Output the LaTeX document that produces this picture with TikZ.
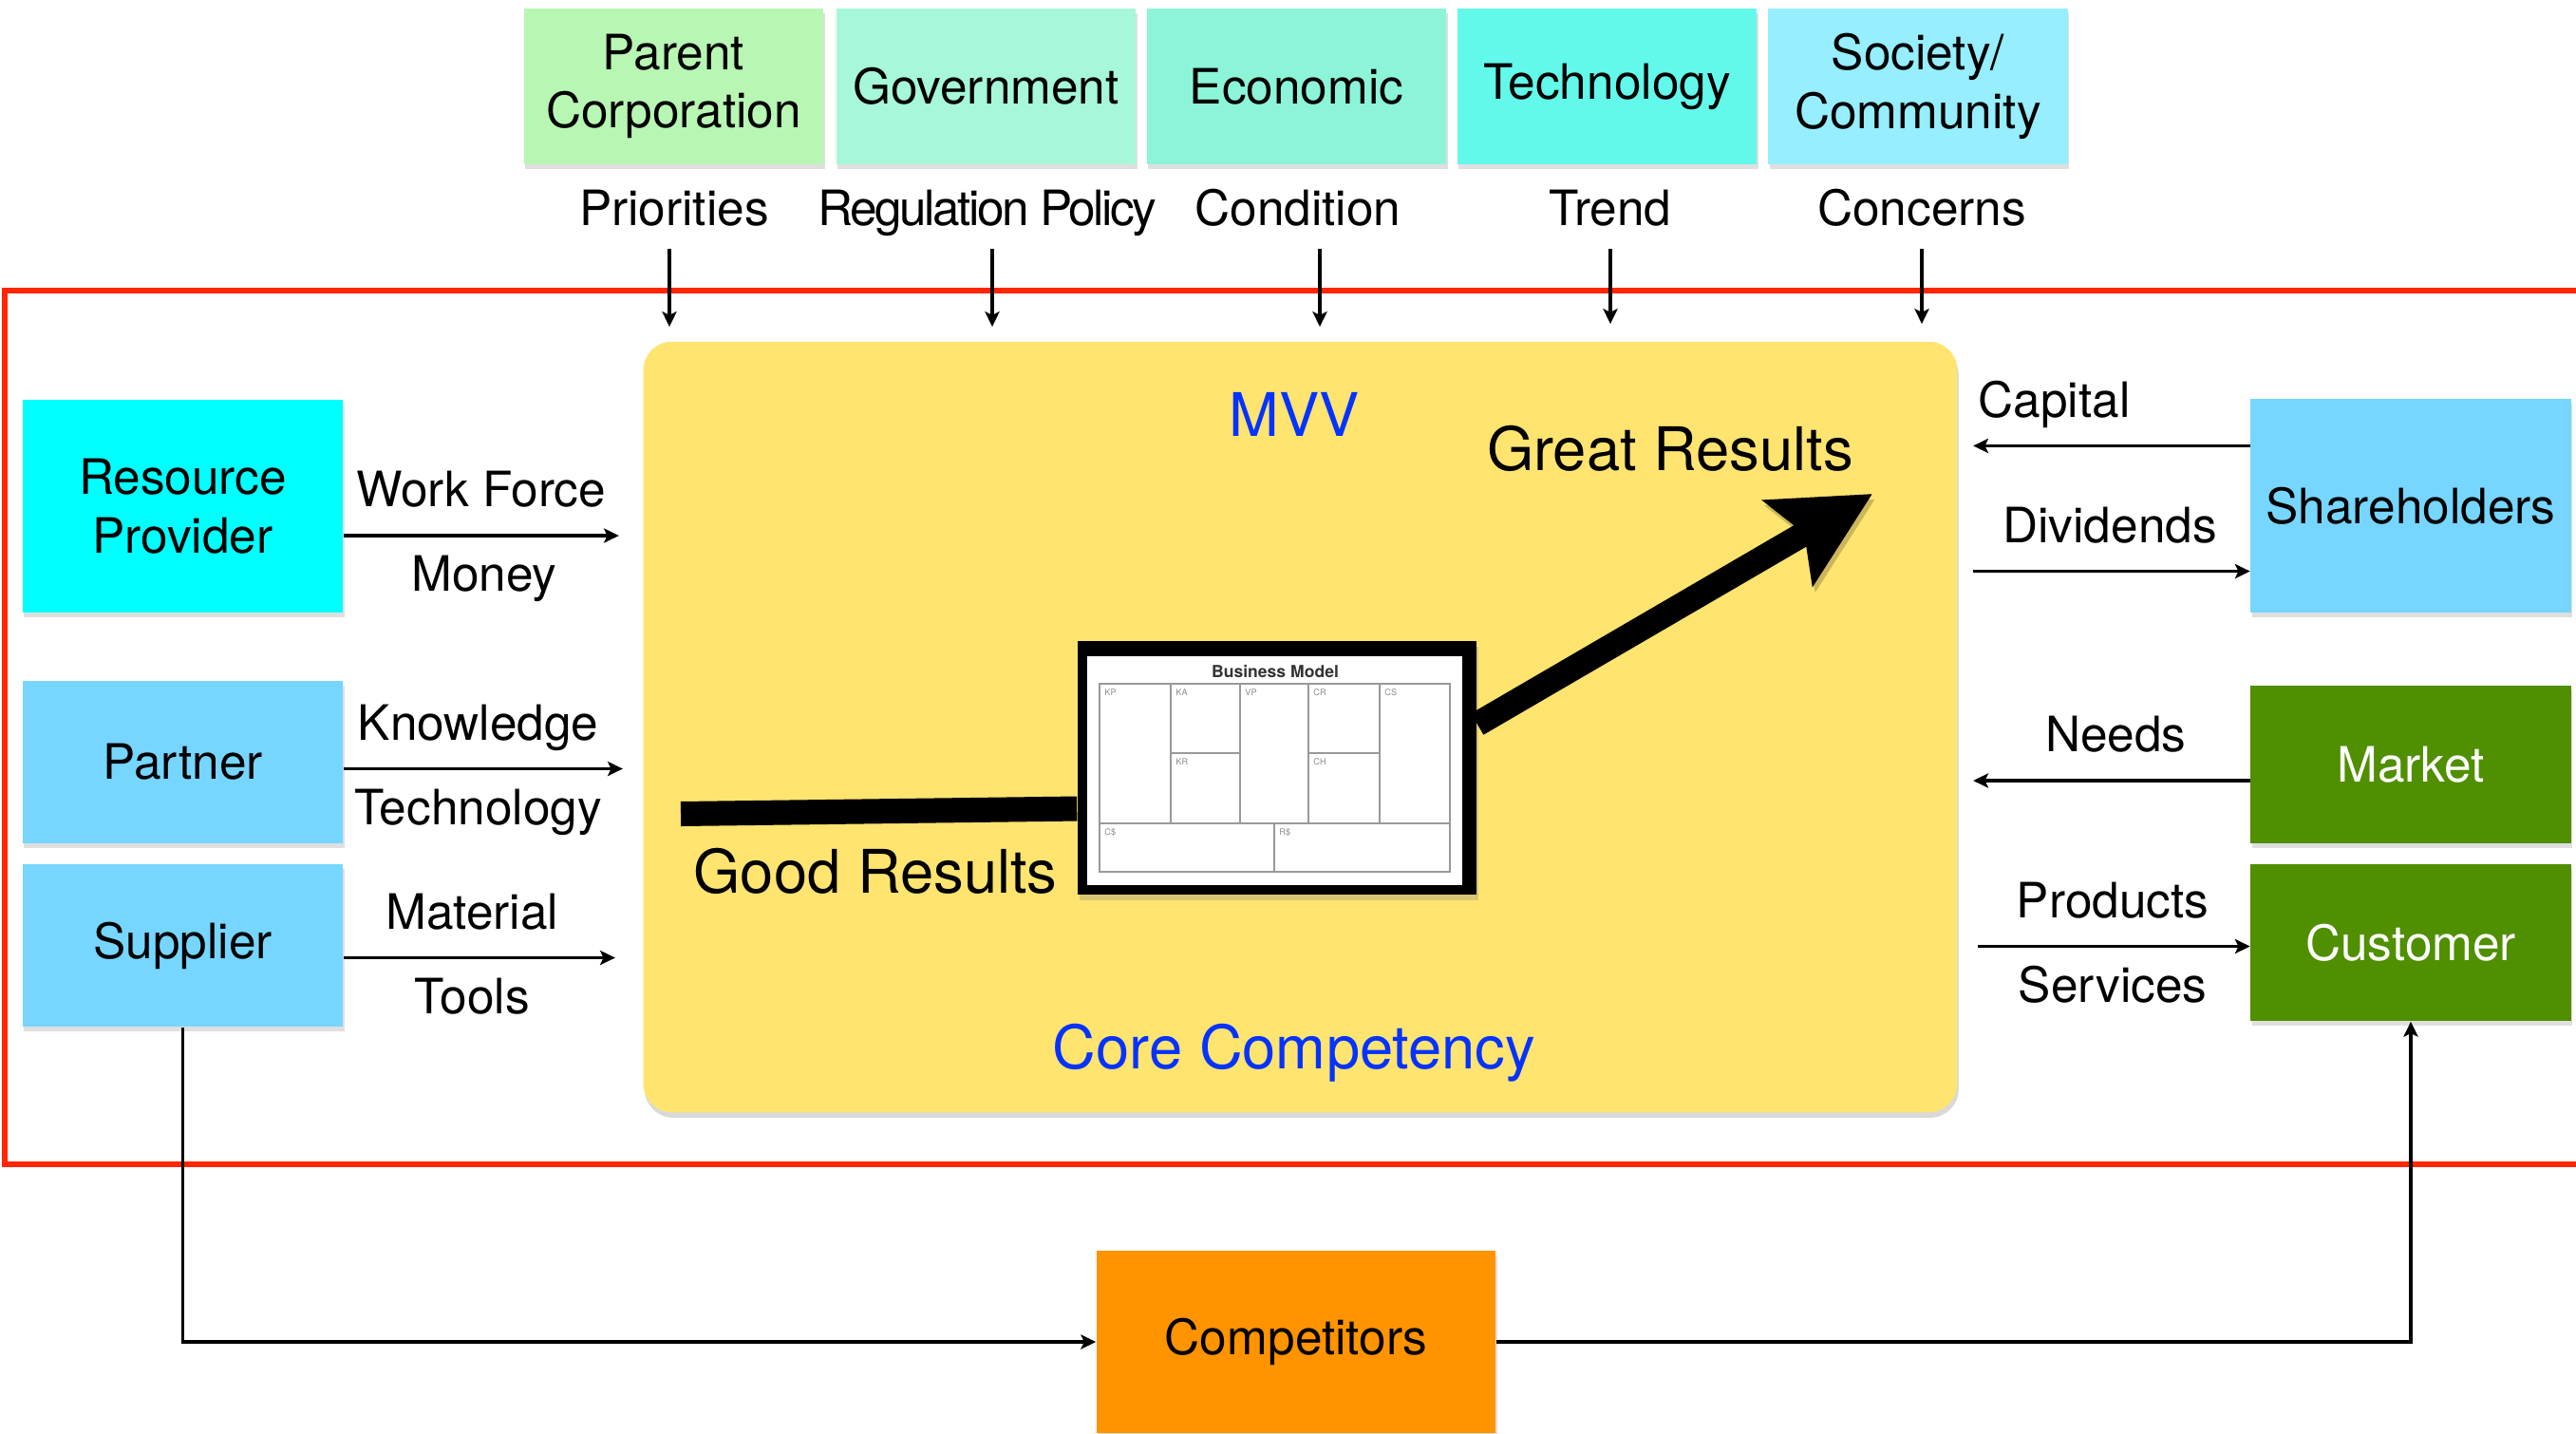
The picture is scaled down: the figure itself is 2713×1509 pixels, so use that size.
\documentclass[tikz,border=0pt]{standalone}
\usepackage{fontspec}
\setmainfont{TeX Gyre Heros}
\usetikzlibrary{arrows.meta,shadows}

\definecolor{parentgreen}{HTML}{B8F6B4}
\definecolor{govmint}{HTML}{A6F8D8}
\definecolor{econmint}{HTML}{8CF5D9}
\definecolor{techaqua}{HTML}{62F9EB}
\definecolor{societysky}{HTML}{96EEFF}
\definecolor{rescyan}{HTML}{00FFFF}
\definecolor{partnerblue}{HTML}{76D6FF}
\definecolor{marketgreen}{HTML}{4F8F00}
\definecolor{comporange}{HTML}{FF9300}
\definecolor{coreyellow}{HTML}{FFE470}
\definecolor{mvvblue}{HTML}{0433FF}
\definecolor{framered}{HTML}{FF2600}

\begin{document}
\begin{tikzpicture}[x={(0.01cm,0cm)}, y={(0cm,-0.01cm)},
    box/.style={minimum width=3.37cm, minimum height=1.71cm, inner sep=0pt, align=center,
        font=\fontsize{14.6}{17.5}\selectfont,
        drop shadow={shadow xshift=0.4pt, shadow yshift=-1.4pt, opacity=0.25}},
    topbox/.style={box, minimum width=3.15cm, minimum height=1.64cm},
    lbl/.style={font=\fontsize{14.6}{17.5}\selectfont, text height=0.75em, text depth=0.25em, inner sep=4.5pt},
    lblup/.style={lbl, above, inner sep=5.6pt},
    lbldown/.style={lbl, below, inner sep=8.8pt},
    big/.style={font=\fontsize{18}{22}\selectfont, anchor=base, inner sep=0pt},
    flow/.style={-{Stealth[length=4.5pt, width=4.3pt, inset=1pt]}, line width=0.9pt},
    bigline/.style={line width=7.4pt, preaction={draw, black, opacity=0.2, transform canvas={xshift=0.8pt, yshift=-1.6pt}}},
    cell/.style={black!40, line width=0.7pt},
    celltag/.style={black!45, font=\fontsize{2.6}{3}\selectfont, anchor=north west, inner sep=0.5pt}]
    \useasboundingbox (0,0) rectangle (2713,1509);

    % boundary of the company
    \draw[framered, line width=1.7pt] (5,306) rectangle (2740,1226);

    \node[fill=coreyellow, rounded corners=8.5pt, minimum width=13.83cm, minimum height=8.11cm,
        drop shadow={shadow xshift=0.4pt, shadow yshift=-1.6pt, opacity=0.3}] (core) at (1369.5,765.5) {};

    % outside forces
    \node[topbox, fill=parentgreen] (parent) at (709.5,91) {Parent\\Corporation};
    \node[topbox, fill=govmint] (gov) at (1038.5,91) {Government};
    \node[topbox, fill=econmint] (econ) at (1365.5,91) {Economic};
    \node[topbox, fill=techaqua] (tech) at (1692.5,91) {Technology};
    \node[topbox, fill=societysky] (society) at (2020,91) {Society/\\Community};

    \node[lbl, anchor=base] (pri) at (710,237) {Priorities};
    \node[lbl, anchor=base] (reg) at (1040,237) {\addfontfeatures{LetterSpace=-5}Regulation Policy};
    \node[lbl, anchor=base] (cond) at (1367,237) {Condition};
    \node[lbl, anchor=base] (trend) at (1696,237) {Trend};
    \node[lbl, anchor=base] (concerns) at (2024,237) {Concerns};

    \draw[flow, shorten >=0.15cm] ([xshift=-0.5mm]pri.south) -- ([xshift=-0.5mm]pri.south |- core.north);
    \draw[flow, shorten >=0.15cm] ([xshift=0.5mm]reg.south) -- ([xshift=0.5mm]reg.south |- core.north);
    \draw[flow, shorten >=0.15cm] ([xshift=2.3mm]cond.south) -- ([xshift=2.3mm]cond.south |- core.north);
    \draw[flow, shorten >=0.18cm] (trend.south) -- (trend.south |- core.north);
    \draw[flow, shorten >=0.18cm] (concerns.south) -- (concerns.south |- core.north);

    % inputs on the left
    \node[box, fill=rescyan, minimum height=2.24cm] (resource) at (192.5,533) {Resource\\Provider};
    \node[box, fill=partnerblue] (partner) at (192.5,802.5) {Partner};
    \node[box, fill=partnerblue] (supplier) at (192.5,995.5) {Supplier};

    \draw[flow, shorten >=0.25cm] ([yshift=-3.1mm]resource.east) -- ([yshift=-3.1mm]resource.east -| core.west)
        node[lblup, pos=0.46] (workforce) {Work Force} node[lbldown, pos=0.47] (money) {Money};
    \draw[flow, shorten >=0.21cm] ([yshift=-0.7mm]partner.east) -- ([yshift=-0.7mm]partner.east -| core.west)
        node[lblup, pos=0.45] (knowledge) {Knowledge} node[lbldown, pos=0.45] (technology) {Technology};
    \draw[flow, shorten >=0.29cm] ([yshift=-1.3mm]supplier.east) -- ([yshift=-1.3mm]supplier.east -| core.west)
        node[lblup, pos=0.43] (material) {Material} node[lbldown, pos=0.43] (tools) {Tools};

    % stakeholders on the right
    \node[box, fill=partnerblue, minimum height=2.25cm] (shareholders) at (2539,532.5) {Shareholders};
    \node[box, fill=marketgreen, text=white, minimum height=1.66cm] (market) at (2539,805) {Market};
    \node[box, fill=marketgreen, text=white, minimum height=1.65cm] (customer) at (2539,992.5) {Customer};

    \draw[flow, shorten >=0.16cm] ([yshift=6.3mm]shareholders.west) -- ([yshift=6.3mm]shareholders.west -| core.east)
        node[lblup, pos=0.67] (capital) {Capital};
    \draw[flow, shorten <=0.16cm] ([yshift=-6.9mm]shareholders.west -| core.east) -- ([yshift=-6.9mm]shareholders.west)
        node[lblup, pos=0.52] (dividends) {Dividends};
    \draw[flow, shorten >=0.16cm] ([yshift=-1.7mm]market.west) -- ([yshift=-1.7mm]market.west -| core.east)
        node[lblup, pos=0.46] (needs) {Needs};
    \draw[flow, shorten <=0.21cm] ([yshift=-0.4mm]customer.west -| core.east) -- ([yshift=-0.4mm]customer.west)
        node[lblup, pos=0.53] (products) {Products} node[lbldown, pos=0.53] (services) {Services};

    % competitors below
    \node[box, fill=comporange, minimum width=4.2cm, minimum height=1.92cm] (competitors) at (1365,1413) {Competitors};
    \draw[flow] (supplier.south) |- (competitors.west);
    \draw[flow] (competitors.east) -| (customer.south);

    % business model canvas in the middle
    \node[fill=black, minimum width=4.2cm, minimum height=2.67cm, inner sep=0pt,
        drop shadow={shadow xshift=0.6pt, shadow yshift=-1.6pt, opacity=0.3}] (bmc) at (1345,808.5) {};
    \fill[white] (1145,691) rectangle (1540,932);
    \node[font=\bfseries\fontsize{5}{6}\selectfont, black!80, inner sep=0pt] (bmtitle) at (1343,707) {Business Model};
    \draw[cell] (1158,720) rectangle (1527,918);
    \draw[cell] (1233,720) -- (1233,867);
    \draw[cell] (1306,720) -- (1306,867);
    \draw[cell] (1378,720) -- (1378,867);
    \draw[cell] (1453,720) -- (1453,867);
    \draw[cell] (1158,867) -- (1527,867);
    \draw[cell] (1233,793) -- (1306,793);
    \draw[cell] (1378,793) -- (1453,793);
    \draw[cell] (1342,867) -- (1342,918);
    \node[celltag] (kp) at (1161,723) {KP};
    \node[celltag] (ka) at (1236,723) {KA};
    \node[celltag] (vp) at (1309,723) {VP};
    \node[celltag] (cr) at (1381,723) {CR};
    \node[celltag] (cs) at (1456,723) {CS};
    \node[celltag] (kr) at (1236,796) {KR};
    \node[celltag] (ch) at (1381,796) {CH};
    \node[celltag] (cost) at (1161,870) {C\$};
    \node[celltag] (rev) at (1345,870) {R\$};

    % results
    \coordinate (goodStart) at (717,857);
    \draw[bigline] (goodStart) -- ([yshift=-4.3mm]bmc.west);
    \coordinate (greatTip) at (1972,520);
    \draw[bigline, -{Stealth[length=29pt, width=29pt, inset=5.4pt]}] ([yshift=4.6mm]bmc.east) -- (greatTip);

    \node[big, mvvblue] (mvv) at (1363,459) {MVV};
    \node[big] (great) at (1759,495) {Great Results};
    \node[big] (good) at (922,940) {Good Results};
    \node[big, mvvblue] (corecomp) at (1363,1125) {Core Competency};
\end{tikzpicture}
\end{document}
